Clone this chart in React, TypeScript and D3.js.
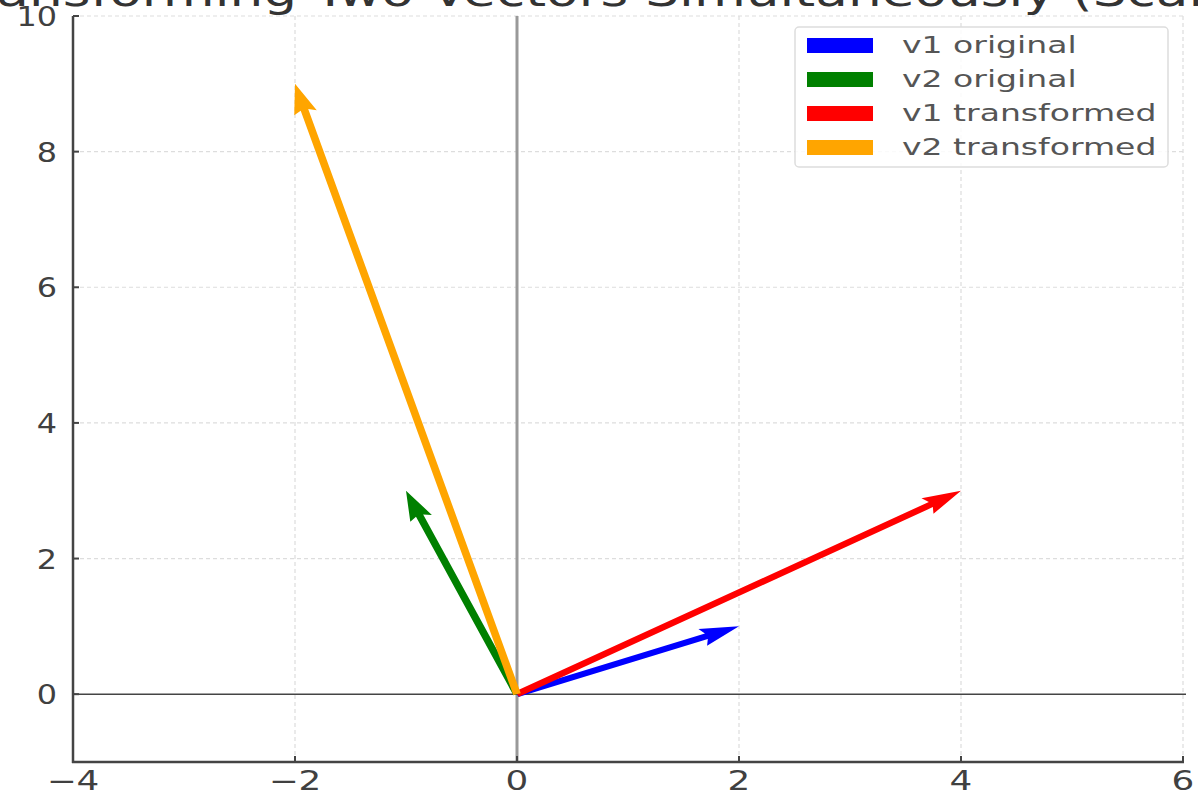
import React from "react";
import * as d3 from "d3";

const xTicks = [-4, -2, 0, 2, 4, 6];
const yTicks = [0, 2, 4, 6, 8, 10];
const vectorNames = ["v1 original", "v2 original", "v1 transformed", "v2 transformed"];
const vectorX = [2, -1, 4, -2];
const vectorY = [1, 3, 3, 9];
const vectorColors = ["#0000ff", "#008000", "#ff0000", "#ffa500"];
const titleText = "Transforming Two Vectors Simultaneously (Scaling)";

const W = 1198;
const H = 797;
const SX = 1.3;
const L = 73, R = 1183, T = 16, B = 762;

export default function App() {
  const x = d3.scaleLinear().domain([-4, 6]).range([L, R]);
  const y = d3.scaleLinear().domain([-1, 10]).range([B, T]);
  const xi = d3.scaleLinear().domain([-4, 6]).range([L / SX, R / SX]);

  const arrow = (vx: number, vy: number) => {
    const ox = xi(0), oy = y(0);
    const tx = xi(vx), ty = y(vy);
    const len = Math.hypot(tx - ox, ty - oy);
    const dx = (tx - ox) / len, dy = (ty - oy) / len;
    const nx = -dy, ny = dx;
    const w = 6;
    const hw = w / 2;
    const pts: [number, number][] = [
      [ox + nx * hw, oy + ny * hw],
      [tx - dx * 4.5 * w + nx * hw, ty - dy * 4.5 * w + ny * hw],
      [tx - dx * 5 * w + nx * 1.5 * w, ty - dy * 5 * w + ny * 1.5 * w],
      [tx, ty],
      [tx - dx * 5 * w - nx * 1.5 * w, ty - dy * 5 * w - ny * 1.5 * w],
      [tx - dx * 4.5 * w - nx * hw, ty - dy * 4.5 * w - ny * hw],
      [ox - nx * hw, oy - ny * hw],
    ];
    return pts.map((p) => p.join(",")).join(" ");
  };

  const textColor = "#404040";

  return (
    <svg width={W} height={H} style={{ position: "absolute", left: 0, top: 0, background: "#fff" }}
      fontFamily="DejaVu Sans">
      {/* title */}
      <text transform={`translate(${(L + R) / 2},6) scale(${SX},1)`} textAnchor="middle" fontSize={41} fill="#333">
        {titleText}
      </text>
      {/* grid */}
      {xTicks.filter((t) => t !== -4 && t !== 0).map((t) => (
        <line key={"gx" + t} x1={x(t)} x2={x(t)} y1={T} y2={B} stroke="#ddd" strokeWidth={1.2} strokeDasharray="4,3" />
      ))}
      {yTicks.filter((t) => t !== 0).map((t) => (
        <line key={"gy" + t} x1={L} x2={R} y1={y(t)} y2={y(t)} stroke="#ddd" strokeWidth={1.2} strokeDasharray="4,3" />
      ))}
      {/* zero lines */}
      <line x1={x(0)} x2={x(0)} y1={T} y2={B} stroke="#999" strokeWidth={3} />
      <line x1={L} x2={R + 3} y1={y(0)} y2={y(0)} stroke="#444" strokeWidth={1.5} />
      {/* arrows */}
      <g transform={`scale(${SX},1)`}>
        {vectorNames.map((n, i) => (
          <polygon key={n} points={arrow(vectorX[i], vectorY[i])} fill={vectorColors[i]} />
        ))}
      </g>
      {/* spines */}
      <line x1={L} x2={L} y1={T} y2={B + 1} stroke="#444" strokeWidth={2.5} />
      <line x1={L - 1} x2={R + 1} y1={B} y2={B} stroke="#444" strokeWidth={2.5} />
      {/* ticks */}
      {xTicks.map((t) => (
        <g key={"xt" + t}>
          <line x1={x(t)} x2={x(t)} y1={B} y2={B - 6} stroke="#444" strokeWidth={2} />
          <text transform={`translate(${x(t)},790) scale(${SX + 0.05},1)`} textAnchor="middle" fontSize={26.5} fill={textColor}>
            {d3.format("")(t).replace("-", "\u2212")}
          </text>
        </g>
      ))}
      {yTicks.map((t) => (
        <g key={"yt" + t}>
          <line x1={L} x2={L + 6} y1={y(t)} y2={y(t)} stroke="#444" strokeWidth={2} />
          <text transform={`translate(57,${y(t) + 10}) scale(${SX - 0.12},1)`} textAnchor="end" fontSize={27} fill={textColor}>
            {t}
          </text>
        </g>
      ))}
      {/* legend */}
      <rect x={795} y={27} width={373} height={140} rx={4} fill="#fff" fillOpacity={0.85} stroke="#ddd" strokeWidth={1.5} />
      {vectorNames.map((n, i) => (
        <g key={"lg" + n}>
          <rect x={807} y={38 + i * 34} width={66} height={15} fill={vectorColors[i]} />
          <text transform={`translate(902,${53 + i * 34}) scale(1.47,1)`} fontSize={22.5} fill="#555">
            {n}
          </text>
        </g>
      ))}
    </svg>
  );
}
